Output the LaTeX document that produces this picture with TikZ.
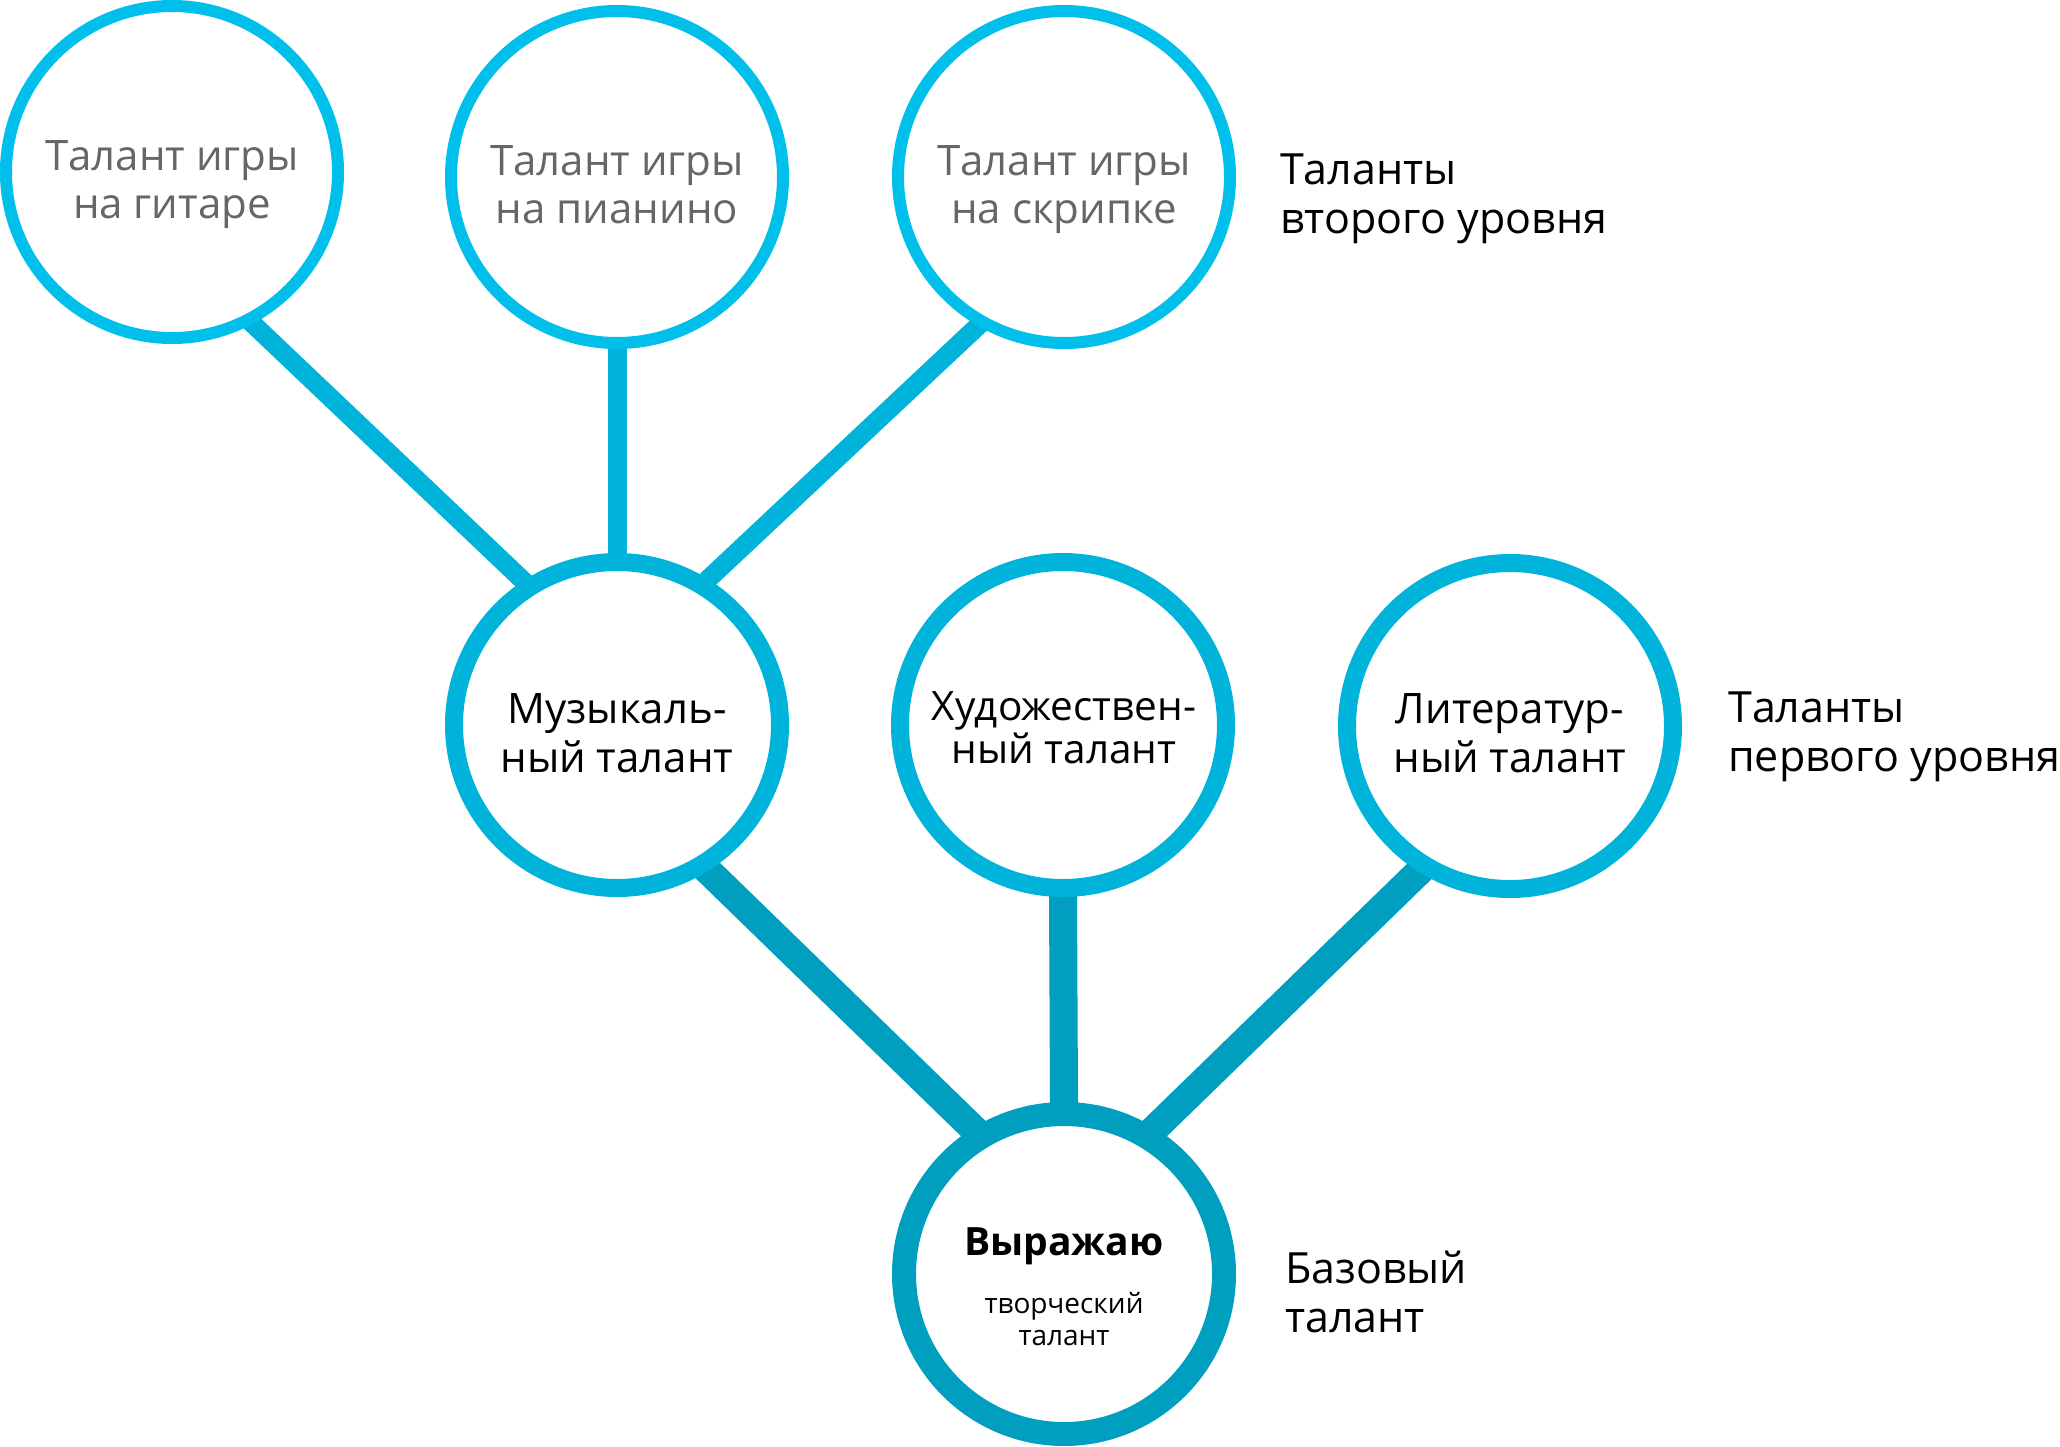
\documentclass[tikz,border=0pt]{standalone}
\usepackage{fontspec}
\setmainfont{Open Sans}
\usetikzlibrary{backgrounds}
\definecolor{topc}{HTML}{00BFEA}
\definecolor{midc}{HTML}{00B3DB}
\definecolor{botc}{HTML}{009FC0}
\definecolor{grayt}{HTML}{666666}
\tikzset{
  toplevel/.style={circle,draw=topc,line width=12pt,fill=white,minimum size=332pt,inner sep=0pt},
  midlevel/.style={circle,draw=midc,line width=18pt,fill=white,minimum size=326pt,inner sep=0pt},
  baselevel/.style={circle,draw=botc,line width=24pt,fill=white,minimum size=320pt,inner sep=0pt},
  graytxt/.style={text=grayt,align=center,anchor=base,inner sep=0pt,font=\fontsize{42}{48}\selectfont},
  blacktxt/.style={text=black,align=center,anchor=base,inner sep=0pt,font=\fontsize{42}{49}\selectfont},
  sidetxt/.style={text=black,align=left,anchor=base west,inner sep=0pt,font=\fontsize{43}{49}\selectfont},
  thinlink/.style={draw=midc,line width=19pt,shorten <=-25pt,shorten >=-25pt},
  thicklink/.style={draw=botc,line width=28pt,shorten <=-25pt,shorten >=-25pt}
}
\begin{document}
\begin{tikzpicture}[x=1pt,y=-1pt]
\useasboundingbox (0,0) rectangle (2060,1446);
% circles
\node[toplevel] (g) at (172,172) {};
\node[toplevel] (p) at (617,177) {};
\node[toplevel] (s) at (1064,177) {};
\node[midlevel] (m) at (617,725) {};
\node[midlevel] (h) at (1063,725) {};
\node[midlevel] (l) at (1510,726) {};
\node[baselevel] (b) at (1064,1274) {};
% connectors
\begin{pgfonlayer}{background}
\draw[thinlink] (g.-62) -- (m.123);
\draw[thinlink] (p.south) -- (m.north);
\draw[thinlink] (s.-120) -- (m.58);
\draw[thicklink] (m.-58) -- (b.122);
\draw[thicklink] (h.south) -- (b.north);
\draw[thicklink] (l.-122) -- (b.58);
\end{pgfonlayer}
% texts in circles (anchor = baseline of last line)
\node[graytxt] (gt) at (172,218) {Талант игры\\на гитаре};
\node[graytxt] (pt) at (617,223) {Талант игры\\на пианино};
\node[graytxt] (st) at (1064,223) {Талант игры\\на скрипке};
\node[blacktxt] (mt) at (617,772) {Музыкаль-\\ный талант};
\node[blacktxt,font=\fontsize{40.5}{43}\selectfont] (ht) at (1064,763) {Художествен-\\ный талант};
\node[blacktxt] (lt) at (1510,772) {Литератур-\\ный талант};
\node[text=black,anchor=base,inner sep=0pt,font=\fontsize{39}{44}\selectfont\bfseries] (bt) at (1064,1255) {Выражаю};
\node[text=black,align=center,anchor=base,inner sep=0pt,font=\fontsize{28}{32}\selectfont] (bs) at (1064,1345) {творческий\\талант};
% side labels
\node[sidetxt] (l2) at (1280,233) {Таланты\\второго уровня};
\node[sidetxt] (l1) at (1728,771) {Таланты\\первого уровня};
\node[sidetxt] (l0) at (1285,1332) {Базовый\\талант};
\end{tikzpicture}
\end{document}
